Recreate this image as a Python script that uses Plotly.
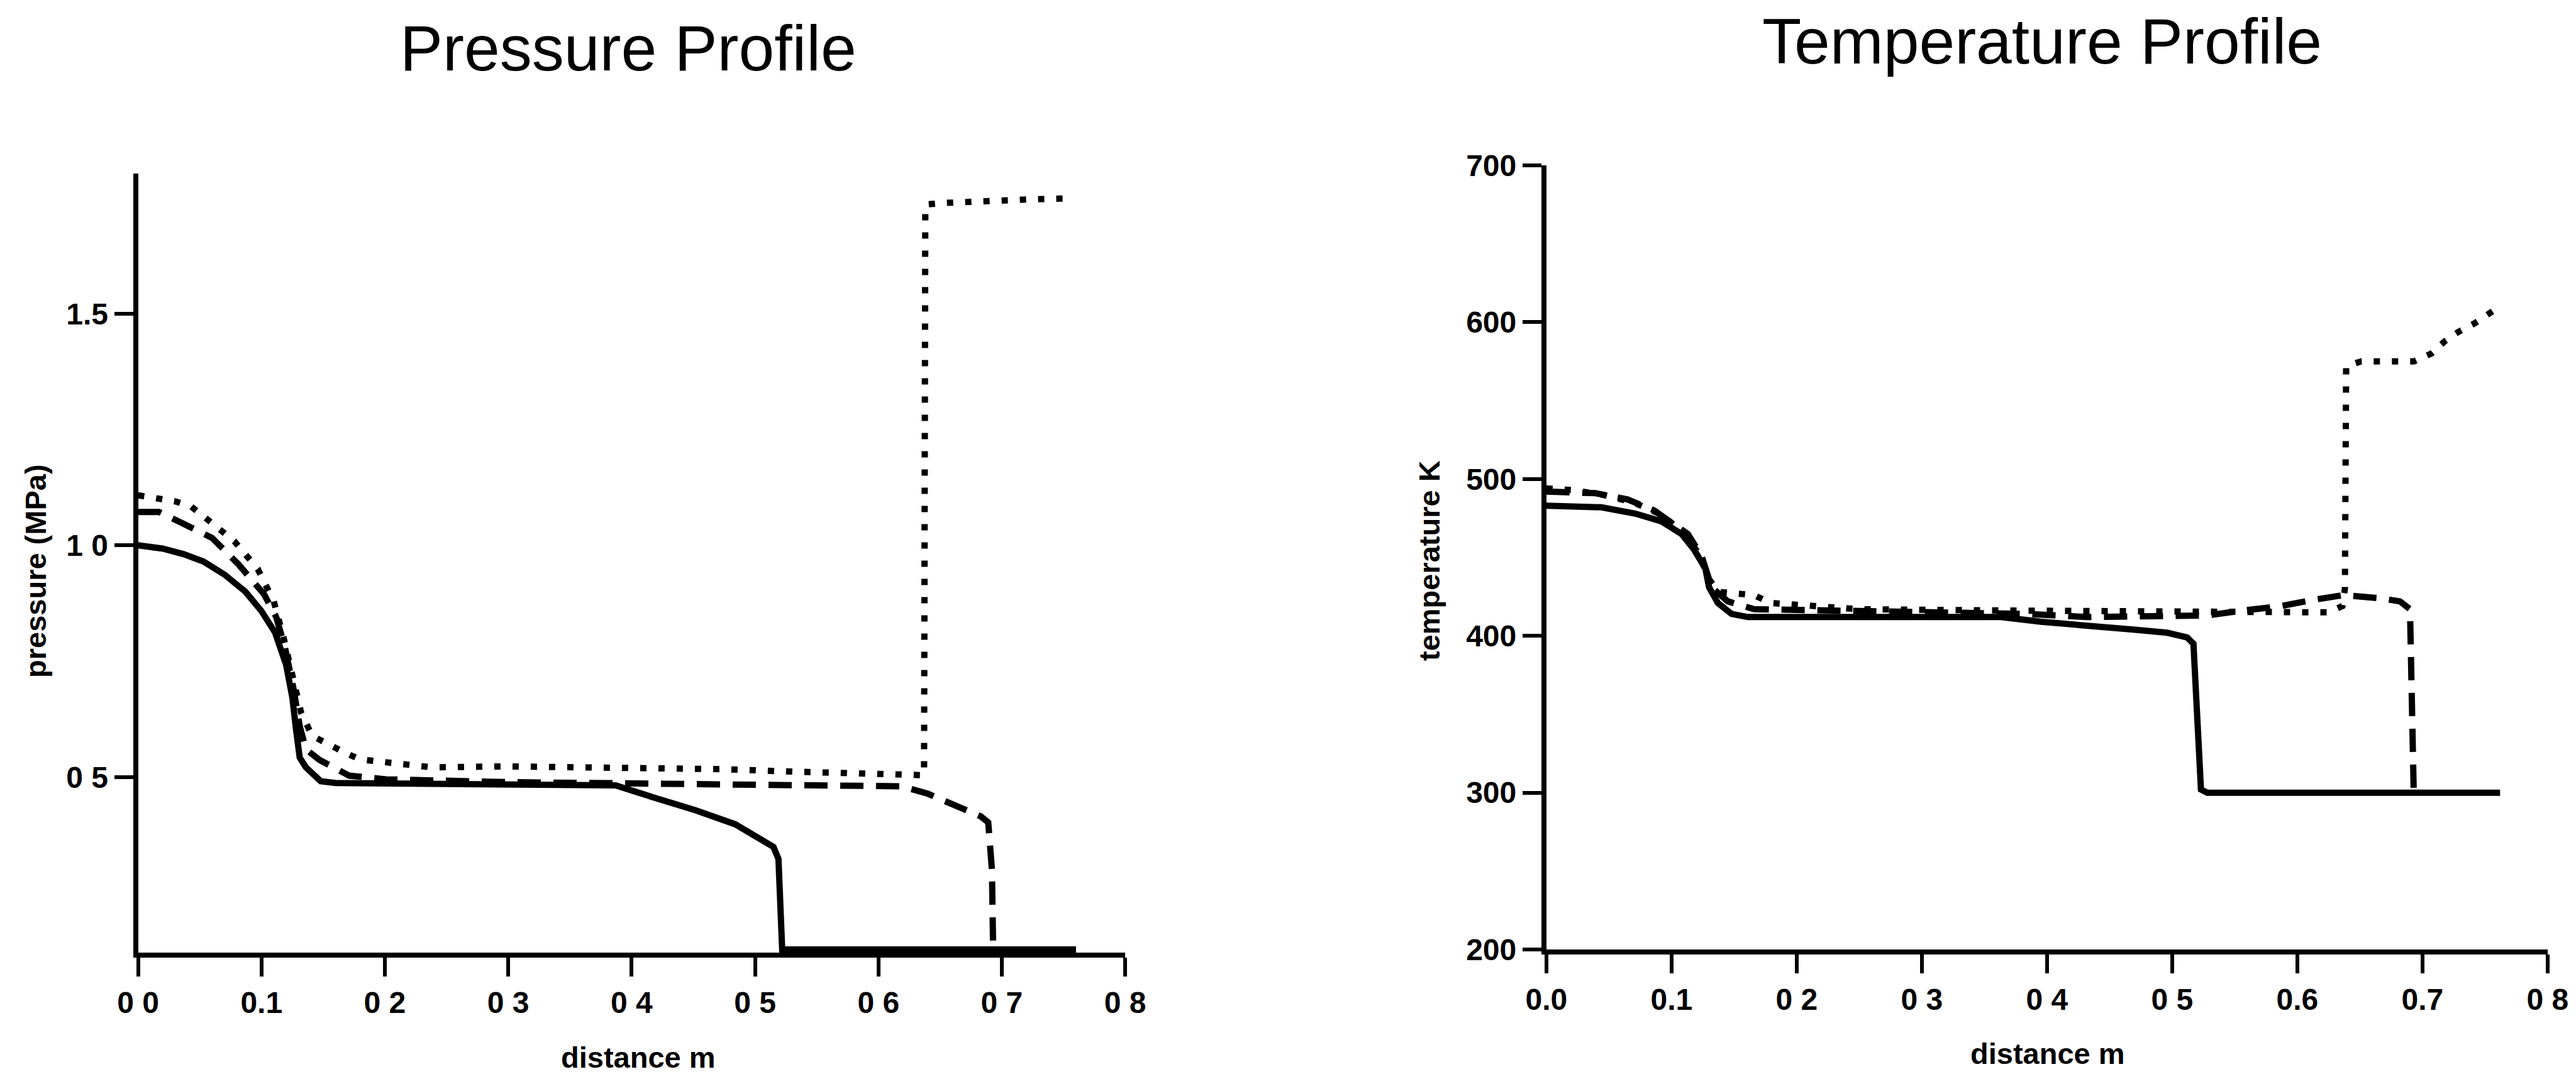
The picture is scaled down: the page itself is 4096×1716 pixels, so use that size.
import plotly.graph_objects as go

# ---------------- Pressure profile (MPa vs distance m) ----------------
p_solid_x = [0, 0.02, 0.037, 0.053, 0.07, 0.087, 0.1, 0.111, 0.12, 0.125, 0.128,
             0.131, 0.136, 0.14, 0.148, 0.16, 0.25, 0.387, 0.419, 0.452, 0.484,
             0.505, 0.515, 0.519, 0.522, 0.76]
p_solid_y = [1.0, 0.993, 0.981, 0.965, 0.937, 0.9, 0.858, 0.812, 0.742, 0.672, 0.603,
             0.542, 0.521, 0.51, 0.491, 0.487, 0.486, 0.482, 0.455, 0.428, 0.398,
             0.367, 0.349, 0.323, 0.128, 0.128]

p_dash_x = [0, 0.017, 0.035, 0.06, 0.081, 0.102, 0.112, 0.119, 0.126, 0.131, 0.136,
            0.147, 0.171, 0.201, 0.3, 0.387, 0.5, 0.619, 0.64, 0.667, 0.683, 0.689,
            0.692, 0.693, 0.76]
p_dash_y = [1.072, 1.072, 1.049, 1.016, 0.96, 0.895, 0.845, 0.78, 0.69, 0.61, 0.56,
            0.537, 0.503, 0.495, 0.489, 0.486, 0.483, 0.48, 0.464, 0.433, 0.415, 0.402,
            0.3, 0.128, 0.128]

p_dot_x = [0, 0.016, 0.03, 0.043, 0.056, 0.078, 0.097, 0.11, 0.118, 0.125, 0.132,
           0.141, 0.155, 0.168, 0.18, 0.238, 0.298, 0.36, 0.419, 0.473, 0.527, 0.581,
           0.624, 0.637, 0.638, 0.64, 0.654, 0.669, 0.682, 0.698, 0.712, 0.726, 0.757]
p_dot_y = [1.108, 1.102, 1.095, 1.084, 1.056, 1.009, 0.949, 0.879, 0.8, 0.72, 0.64,
           0.589, 0.568, 0.552, 0.538, 0.521, 0.523, 0.521, 0.521, 0.517, 0.512, 0.508,
           0.504, 0.504, 1.732, 1.736, 1.739, 1.741, 1.74, 1.744, 1.744, 1.747, 1.749]

# ---------------- Temperature profile (K vs distance m) ----------------
t_solid_x = [0, 0.023, 0.044, 0.071, 0.092, 0.108, 0.118, 0.127, 0.13, 0.137, 0.148,
             0.161, 0.25, 0.363, 0.395, 0.432, 0.469, 0.496, 0.512, 0.517, 0.523,
             0.528, 0.762]
t_solid_y = [483, 483, 482, 478, 473, 465, 455, 443, 431, 421, 414,
             412, 412, 412, 409, 406, 404, 402, 399, 395, 302,
             300, 300]

t_dash_x = [0, 0.012, 0.039, 0.065, 0.086, 0.113, 0.124, 0.132, 0.145, 0.166, 0.23,
            0.31, 0.384, 0.432, 0.496, 0.528, 0.555, 0.587, 0.613, 0.637, 0.666,
            0.682, 0.69, 0.693]
t_dash_y = [492, 492, 491, 487, 480, 465, 451, 431, 422, 417, 416,
            415, 414, 412, 412, 413, 416, 419, 423, 426, 424,
            422, 417, 300]

t_dot_x = [0, 0.02, 0.045, 0.07, 0.09, 0.11, 0.122, 0.13, 0.138, 0.15, 0.166, 0.179,
           0.25, 0.4, 0.5, 0.61, 0.625, 0.636, 0.638, 0.639, 0.651, 0.664, 0.677,
           0.693, 0.707, 0.718, 0.729, 0.741, 0.756]
t_dot_y = [494, 493, 490, 485, 478, 466, 452, 436, 428, 427, 426, 421,
           417, 416, 416, 416, 415, 419, 430, 572, 575, 575, 575,
           575, 580, 588, 594, 599, 607]

# ---------------- Axis ticks ----------------
x_tickvals = [0, 0.1, 0.2, 0.3, 0.4, 0.5, 0.6, 0.7, 0.8]
p_x_ticktext = ["0 0", "0.1", "0 2", "0 3", "0 4", "0 5", "0 6", "0 7", "0 8"]
t_x_ticktext = ["0.0", "0.1", "0 2", "0 3", "0 4", "0 5", "0.6", "0.7", "0 8"]
p_y_tickvals = [0.5, 1.0, 1.5]
p_y_ticktext = ["0 5", "1 0", "1.5"]
t_y_tickvals = [200, 300, 400, 500, 600, 700]
t_y_ticktext = ["200", "300", "400", "500", "600", "700"]

W, H = 4096, 1716
LW = 10
SOLID = dict(color="black", width=LW)
DASHED = dict(color="black", width=LW, dash="37px,20px")
DOTTED = dict(color="black", width=LW, dash="10px,19px")

fig = go.Figure()
for xs, ys, ln in [(p_solid_x, p_solid_y, SOLID), (p_dash_x, p_dash_y, DASHED),
                   (p_dot_x, p_dot_y, DOTTED)]:
    fig.add_trace(go.Scatter(x=xs, y=ys, mode="lines", line=ln,
                             xaxis="x", yaxis="y", hoverinfo="skip"))
for xs, ys, ln in [(t_solid_x, t_solid_y, SOLID), (t_dash_x, t_dash_y, DASHED),
                   (t_dot_x, t_dot_y, DOTTED)]:
    fig.add_trace(go.Scatter(x=xs, y=ys, mode="lines", line=ln,
                             xaxis="x2", yaxis="y2", hoverinfo="skip"))

tick_font = dict(family="Liberation Sans, Arial, sans-serif", size=48,
                 color="black", weight="bold")
axis_common = dict(showgrid=False, zeroline=False, showline=True, linecolor="black",
                   linewidth=8, ticks="outside", ticklen=30, tickwidth=6,
                   tickcolor="black", tickfont=tick_font, tickmode="array",
                   automargin=False)

fig.update_layout(
    width=W, height=H,
    margin=dict(l=0, r=0, t=0, b=0, autoexpand=False),
    paper_bgcolor="white", plot_bgcolor="white",
    showlegend=False,
    xaxis=dict(domain=[0.0536, 0.4368], range=[0, 0.8], anchor="y",
               tickvals=x_tickvals, ticktext=p_x_ticktext, **axis_common),
    yaxis=dict(domain=[0.1171, 0.8390], range=[0.121, 1.802], anchor="x",
               tickvals=p_y_tickvals, ticktext=p_y_ticktext, **axis_common),
    xaxis2=dict(domain=[0.6003, 0.9890], range=[0, 0.8], anchor="y2",
                tickvals=x_tickvals, ticktext=t_x_ticktext, **axis_common),
    yaxis2=dict(domain=[0.1200, 0.8467], range=[200, 700], anchor="x2",
                tickvals=t_y_tickvals, ticktext=t_y_ticktext, **axis_common),
)

title_font = dict(family="Liberation Sans, Arial, sans-serif", size=102, color="black")
label_font = dict(family="Liberation Sans, Arial, sans-serif", size=47,
                  color="black", weight="bold")


def px(x):
    return x / W


def py(y):
    return 1 - y / H


annotations = [
    dict(text="Pressure Profile", x=px(998.6), y=py(77), font=title_font),
    dict(text="Temperature Profile", x=px(3247), y=py(66), font=title_font),
    dict(text="distance m", x=px(1015), y=py(1681), font=label_font),
    dict(text="distance m", x=px(3256), y=py(1675), font=label_font),
    dict(text="pressure (MPa)", x=px(57), y=py(908), font=label_font, textangle=-90),
    dict(text="temperature K", x=px(2272), y=py(892), font=label_font, textangle=-90),
]
for a in annotations:
    a.update(xref="paper", yref="paper", showarrow=False,
             xanchor="center", yanchor="middle")
fig.update_layout(annotations=annotations)

fig.write_html("out.html")
